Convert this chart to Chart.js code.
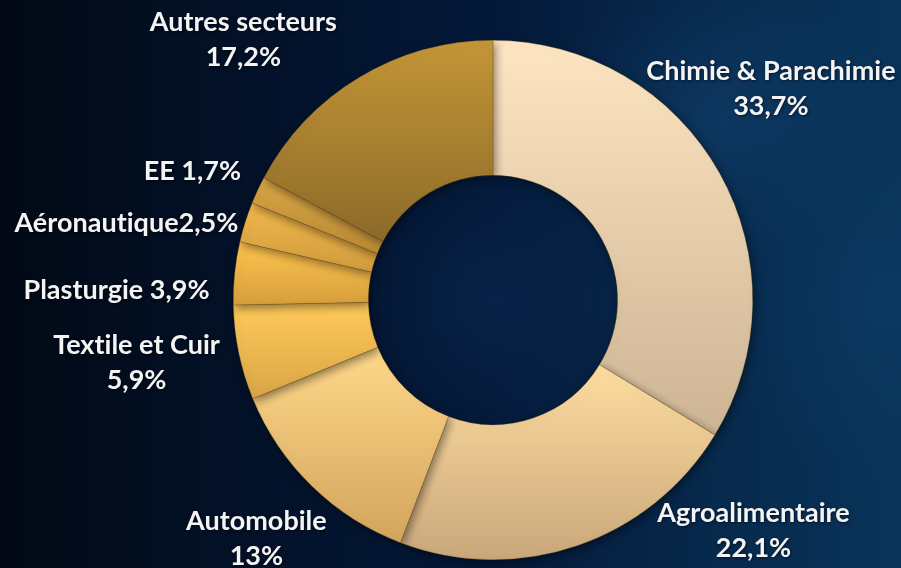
<html>
<head>
    <title>Répartition par secteur</title>
    <script src="https://cdn.jsdelivr.net/npm/chart.js"></script>
    <style>
        html, body {
            margin: 0;
            padding: 0;
            width: 901px;
            height: 568px;
            overflow: hidden;
        }
        body {
            background:
                radial-gradient(ellipse 260px 200px at 720px 120px, rgba(20, 70, 120, 0.45), rgba(20, 70, 120, 0) 70%),
                radial-gradient(ellipse 220px 260px at 880px 300px, rgba(15, 60, 105, 0.5), rgba(15, 60, 105, 0) 70%),
                radial-gradient(ellipse 140px 140px at 493px 300px, rgba(8, 40, 80, 0.6), rgba(8, 40, 80, 0) 100%),
                linear-gradient(90deg, #020915 0%, #03122a 30%, #04193a 55%, #072a4d 80%, #093459 100%);
        }
        #wrap {
            position: absolute;
            left: 0;
            top: 0;
            width: 901px;
            height: 568px;
        }
    </style>
</head>
<body>
    <div id="wrap"><canvas id="sectorChart" width="901" height="568"></canvas></div>

    <script>
        // data, clockwise from the top
        const sectors = ['Chimie & Parachimie', 'Agroalimentaire', 'Automobile', 'Textile et Cuir',
                         'Plasturgie', 'Aéronautique', 'EE', 'Autres secteurs'];
        const shares = [33.7, 22.1, 13, 5.9, 3.9, 2.5, 1.7, 17.2];
        const shareLabels = ['33,7%', '22,1%', '13%', '5,9%', '3,9%', '2,5%', '1,7%', '17,2%'];

        // gradient colours of each slice (top of slice -> bottom of slice)
        const topColors = ['#fee6c3', '#fedda0', '#ffd88a', '#ffcb5a', '#ffc54f', '#f2b84a', '#d9a545', '#c49637'];
        const bottomColors = ['#ccb494', '#c9a77b', '#d2a55d', '#d9a447', '#d69e3c', '#cf9b3d', '#b88a35', '#8c6a29'];

        // label lines and where they sit, in units of the outer radius from the centre
        const labelLines = [
            ['Chimie & Parachimie', '33,7%'],
            ['Agroalimentaire', '22,1%'],
            ['Automobile', '13%'],
            ['Textile et Cuir', '5,9%'],
            ['Plasturgie 3,9%'],
            ['Aéronautique2,5%'],
            ['EE 1,7%'],
            ['Autres secteurs', '17,2%']
        ];
        const labelPos = [
            [1.069, -0.812], [1.002, 0.888], [-0.910, 0.919], [-1.371, 0.242],
            [-1.448, -0.038], [-1.410, -0.296], [-1.156, -0.496], [-0.960, -1.0]
        ];

        const CUT = 0.48;

        function sliceGradient(c) {
            const chart = c.chart;
            const area = chart.chartArea;
            const i = c.dataIndex;
            if (!area) return topColors[i];
            const cx = (area.left + area.right) / 2;
            const cy = (area.top + area.bottom) / 2;
            const R = Math.min(area.right - area.left, area.bottom - area.top) / 2;
            const r = R * CUT;
            const total = shares.reduce((a, b) => a + b, 0);
            let cum = 0;
            for (let k = 0; k < i; k++) cum += shares[k];
            const a0 = -Math.PI / 2 + 2 * Math.PI * cum / total;
            const a1 = a0 + 2 * Math.PI * shares[i] / total;
            const ys = [];
            [a0, a1].forEach(a => {
                ys.push(cy + Math.sin(a) * R, cy + Math.sin(a) * r);
            });
            [-Math.PI / 2, Math.PI / 2, 3 * Math.PI / 2].forEach(a => {
                if (a > a0 && a < a1) ys.push(cy + Math.sin(a) * R);
            });
            const y0 = Math.min(...ys);
            const y1 = Math.max(...ys);
            const g = chart.ctx.createLinearGradient(0, y0, 0, y1 + 0.01);
            g.addColorStop(0, topColors[i]);
            g.addColorStop(1, bottomColors[i]);
            return g;
        }

        const sliceLabels = {
            id: 'sliceLabels',
            afterDatasetsDraw(chart) {
                const ctx = chart.ctx;
                const area = chart.chartArea;
                const cx = (area.left + area.right) / 2;
                const cy = (area.top + area.bottom) / 2;
                const R = Math.min(area.right - area.left, area.bottom - area.top) / 2;
                ctx.save();
                ctx.font = 'bold 27px Lato, "Open Sans", sans-serif';
                ctx.letterSpacing = '0.01px'; // keeps "ti" from turning into a ligature
                ctx.fillStyle = '#f4f4f4';
                ctx.textAlign = 'center';
                ctx.textBaseline = 'middle';
                ctx.shadowColor = 'rgba(0, 0, 0, 0.55)';
                ctx.shadowBlur = 3;
                ctx.shadowOffsetX = 1;
                ctx.shadowOffsetY = 1;
                labelLines.forEach((lines, i) => {
                    const x = cx + labelPos[i][0] * R;
                    const y = cy + labelPos[i][1] * R;
                    const lh = 35;
                    lines.forEach((t, j) => {
                        const yy = y + (j - (lines.length - 1) / 2) * lh;
                        ctx.fillText(t, x, yy);
                    });
                });
                ctx.restore();
            }
        };

        const ringShadow = {
            id: 'ringShadow',
            beforeDatasetsDraw(chart) {
                const ctx = chart.ctx;
                ctx.save();
                ctx.shadowColor = 'rgba(0, 0, 0, 0.45)';
                ctx.shadowBlur = 10;
                ctx.shadowOffsetX = 2;
                ctx.shadowOffsetY = 3;
            },
            afterDatasetsDraw(chart) {
                chart.ctx.restore();
            }
        };

        const ctx = document.getElementById('sectorChart').getContext('2d');
        const sectorChart = new Chart(ctx, {
            type: 'doughnut',
            data: {
                labels: sectors,
                datasets: [{
                    data: shares,
                    backgroundColor: sliceGradient,
                    borderColor: 'rgba(110, 80, 30, 0.5)',
                    borderWidth: 0.6,
                    hoverOffset: 0
                }]
            },
            options: {
                responsive: false,
                animation: false,
                cutout: (CUT * 100) + '%',
                rotation: 0,
                layout: {
                    padding: { left: 233, right: 148, top: 40, bottom: 8 }
                },
                plugins: {
                    legend: { display: false },
                    tooltip: { enabled: false }
                }
            },
            plugins: [ringShadow, sliceLabels]
        });
    </script>
</body>
</html>
